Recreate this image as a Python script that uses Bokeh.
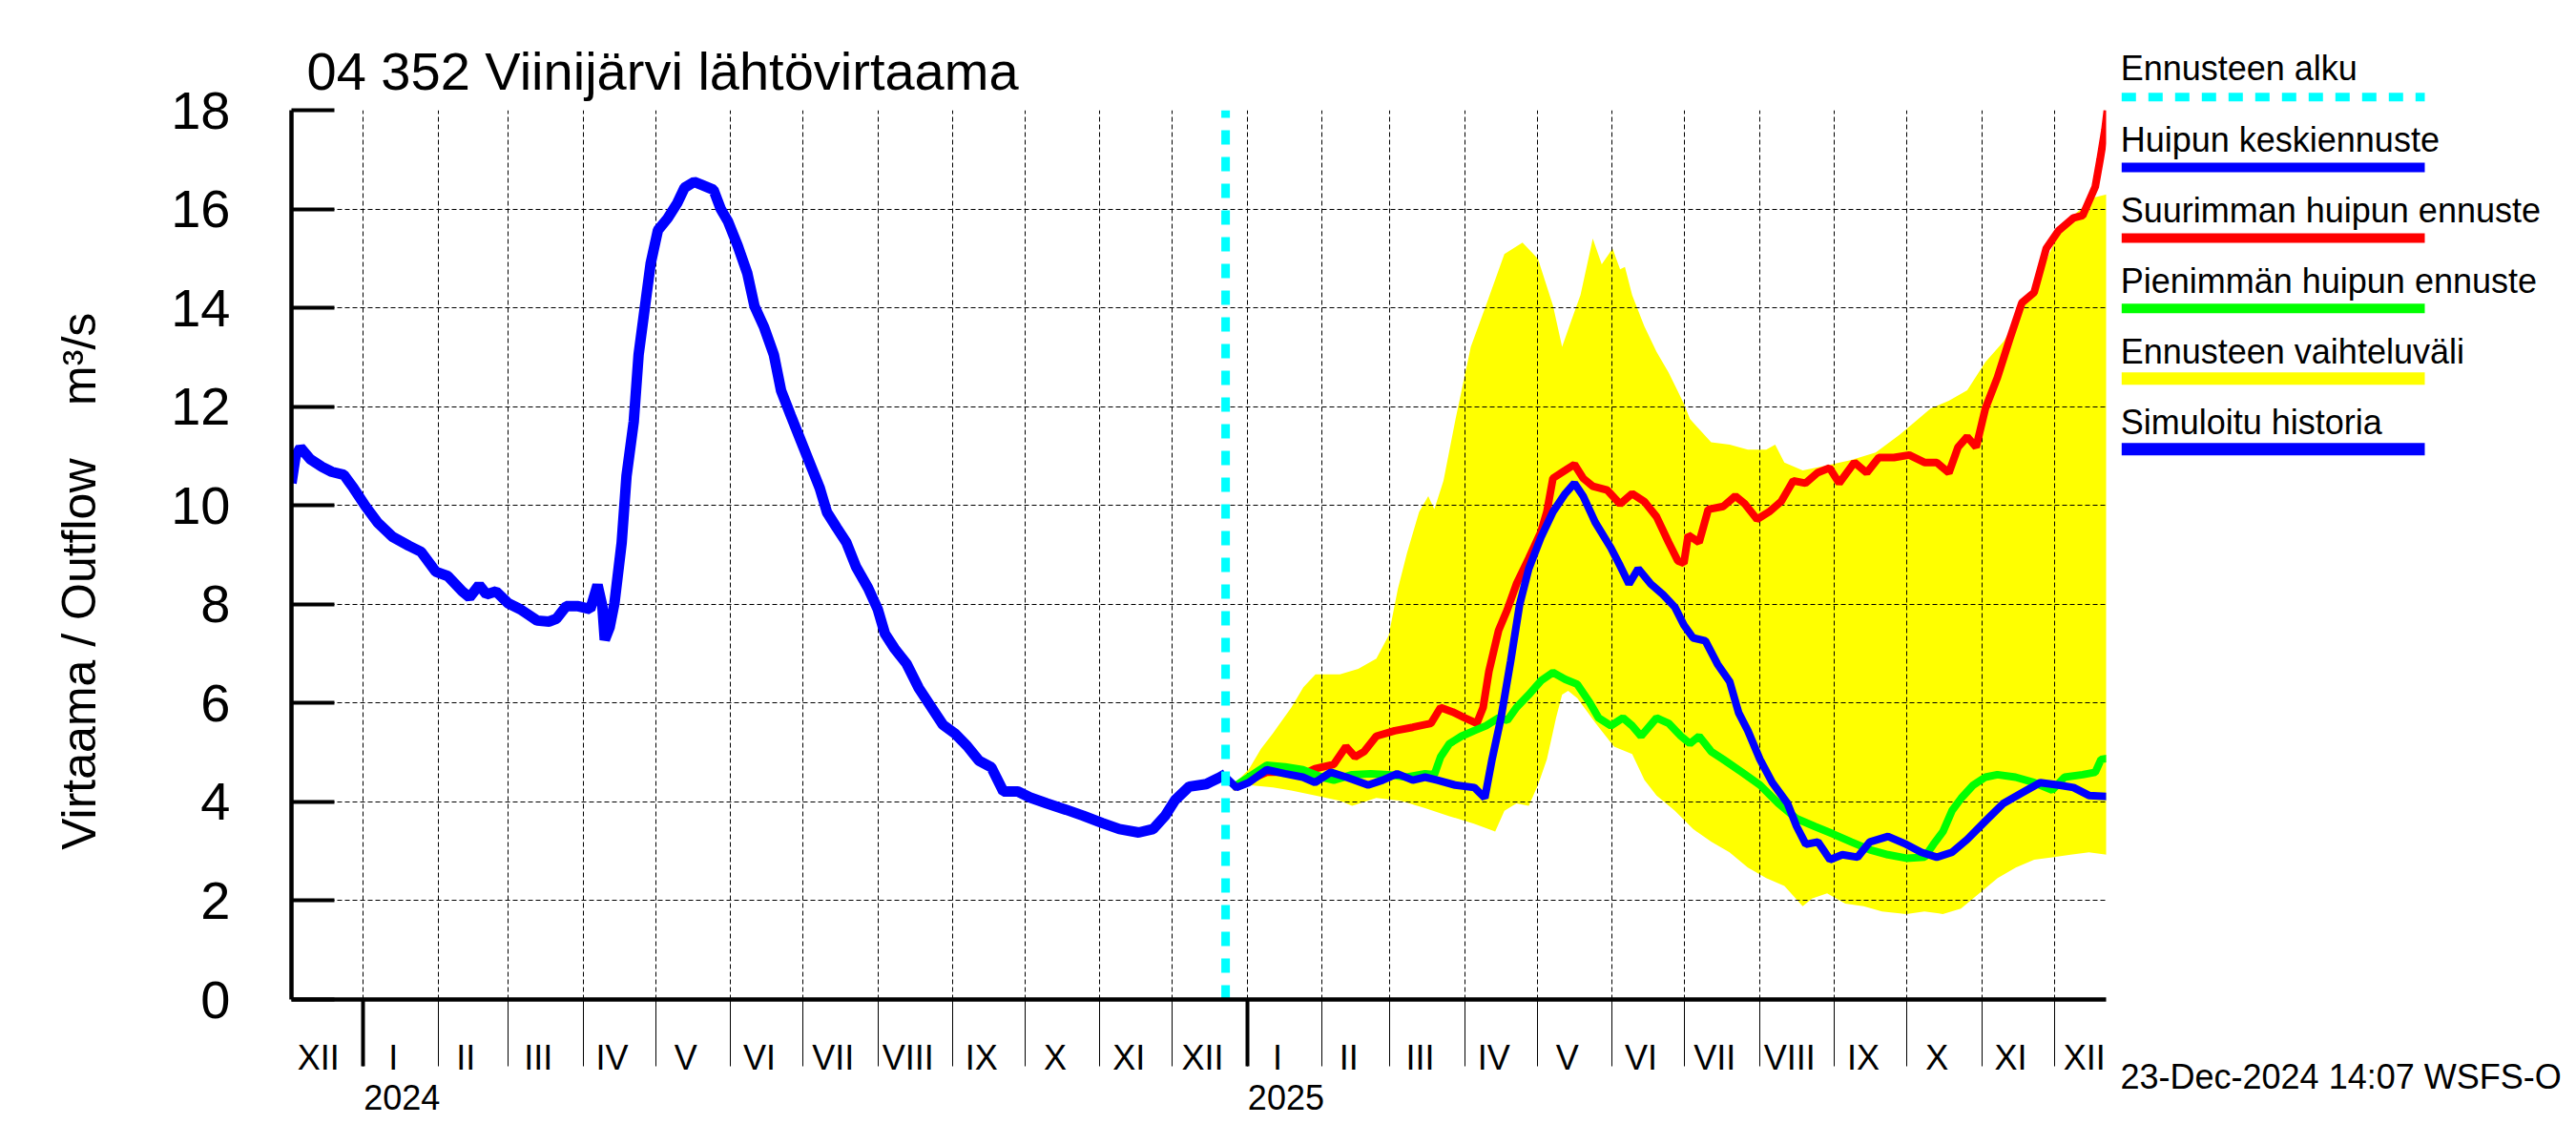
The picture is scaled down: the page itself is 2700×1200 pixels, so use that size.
import pandas as pd
from bokeh.plotting import figure
from bokeh.layouts import row
from bokeh.models import FixedTicker, Range1d, LinearAxis
from bokeh.core.properties import value
from bokeh.embed import file_html
from bokeh.resources import INLINE

FONT = "Liberation Sans"

# ---------------- data ----------------
# simulated history: days since 2024-01-01, flow m3/s
hist_day = [-29.7, -28, -26, -22, -17, -13, -8, -4, 1, 6, 12, 19, 24, 30, 35, 41, 44, 48, 51, 55,
            60, 65, 72, 77, 80, 84, 89, 94, 97, 99, 100, 102, 104, 107, 109, 112, 114, 117, 119, 122,
            126, 130, 133, 137, 140, 145, 148, 151, 155, 159, 162, 166, 170, 173, 177, 181, 185, 189,
            192, 196, 200, 204, 209, 213, 216, 220, 225, 230, 235, 240, 245, 250, 255, 260, 265, 271,
            276, 283, 291, 298, 306, 313, 321, 327, 332, 336, 342, 349, 354, 357]
hist_q = [10.45, 11.0, 11.17, 10.94, 10.78, 10.68, 10.62, 10.35, 9.98, 9.65, 9.37, 9.18, 9.06, 8.66,
          8.57, 8.26, 8.14, 8.39, 8.2, 8.26, 8.02, 7.90, 7.67, 7.65, 7.71, 7.96, 7.96, 7.90, 8.39, 7.96,
          7.28, 7.53, 8.02, 9.25, 10.6, 11.7, 13.05, 14.16, 14.9, 15.57, 15.81, 16.12, 16.43, 16.55,
          16.49, 16.39, 16.0, 15.75, 15.26, 14.7, 14.03, 13.6, 13.05, 12.32, 11.82, 11.33, 10.84, 10.35,
          9.86, 9.55, 9.25, 8.76, 8.33, 7.90, 7.40, 7.10, 6.79, 6.30, 5.93, 5.56, 5.38, 5.13, 4.83, 4.70,
          4.21, 4.21, 4.09, 3.97, 3.84, 3.72, 3.57, 3.45, 3.38, 3.45, 3.72, 4.03, 4.31, 4.36, 4.48, 4.56]

# forecasts: days since 2025-01-01
mean_day = [-9, -4.5, 0.5, 8, 15.6, 23, 28, 34.5, 41, 50, 56, 62, 68.5, 73.6, 78.6, 86, 94, 98.3, 101.3,
            105, 109, 112.7, 116.5, 121.5, 126.5, 131.6, 135.4, 139, 144, 150.5, 154.3, 158, 161.8, 167,
            172, 177, 180.7, 184.5, 189.6, 194.6, 199.7, 203.4, 207.2, 212.2, 217.3, 223.6, 227.4, 231.2,
            236.2, 241.2, 246.3, 252.6, 257.7, 265.2, 272.8, 279, 285.4, 291.7, 298, 305.5, 313, 320.6,
            328.2, 335.8, 342, 348.4, 356]
mean_q = [4.50, 4.29, 4.39, 4.65, 4.57, 4.50, 4.39, 4.60, 4.50, 4.34, 4.44, 4.57, 4.44, 4.50, 4.44, 4.34,
          4.29, 4.08, 4.86, 5.70, 6.85, 7.99, 8.72, 9.35, 9.87, 10.24, 10.45, 10.19, 9.66, 9.14, 8.78,
          8.41, 8.72, 8.41, 8.20, 7.94, 7.58, 7.32, 7.26, 6.79, 6.43, 5.80, 5.44, 4.86, 4.39, 3.97, 3.50,
          3.14, 3.19, 2.83, 2.93, 2.88, 3.19, 3.30, 3.14, 2.98, 2.88, 2.98, 3.24, 3.61, 3.97, 4.18, 4.39,
          4.34, 4.29, 4.13, 4.11]

max_day = [-6, 0.5, 8, 15.6, 23, 28, 35.8, 40.8, 44.6, 48.4, 53.4, 61, 68.5, 76, 80, 85, 90, 95, 97.6,
           100, 104, 107.6, 111.4, 116.5, 121.5, 124, 126.5, 131.6, 135.4, 139, 143, 149, 154.3, 159.3,
           164.3, 169.4, 174.4, 178.2, 180.7, 182.5, 187, 190.8, 197, 202, 206, 211, 216, 221, 226, 231,
           236, 241, 245, 251.3, 256.4, 261.4, 267.7, 274, 280.3, 285.4, 290.4, 294.2, 298, 301.7, 305.5,
           310.5, 315.6, 320.6, 325.7, 330.7, 335.8, 342, 345.8, 351, 353, 355, 356]
max_q = [4.29, 4.44, 4.6, 4.6, 4.55, 4.67, 4.76, 5.12, 4.91, 5.02, 5.33, 5.44, 5.51, 5.59, 5.91, 5.82,
         5.70, 5.59, 5.91, 6.64, 7.47, 7.89, 8.41, 8.93, 9.46, 9.87, 10.55, 10.71, 10.83, 10.55, 10.39,
         10.31, 10.03, 10.24, 10.08, 9.77, 9.25, 8.88, 8.83, 9.40, 9.25, 9.92, 9.98, 10.19, 10.03, 9.72,
         9.87, 10.08, 10.50, 10.45, 10.66, 10.76, 10.45, 10.87, 10.66, 10.97, 10.97, 11.02, 10.87, 10.87,
         10.66, 11.18, 11.39, 11.18, 11.96, 12.59, 13.37, 14.10, 14.31, 15.2, 15.56, 15.82, 15.87, 16.45,
         17.0, 17.6, 18.0]

min_day = [-6, 0.5, 8, 15.6, 23, 30.8, 35.8, 43.4, 51, 58.5, 66, 73.6, 77.4, 80, 83.7, 88.7, 93.8, 98.8,
           104, 107.6, 111.4, 116.5, 121.5, 126.5, 131.6, 136.6, 141.7, 145.4, 150.5, 155.5, 159.3, 163,
           169.4, 174.4, 179.5, 183.2, 187, 192, 197, 204.7, 212.2, 219.8, 227.4, 235, 242.5, 250, 257.7,
           265.2, 272.8, 280.4, 284, 288, 291.7, 295.6, 300.5, 305.5, 310.5, 318, 325.7, 333.2, 338.3,
           345.8, 351, 353.4, 356]
min_q = [4.29, 4.50, 4.74, 4.71, 4.65, 4.50, 4.44, 4.55, 4.57, 4.55, 4.50, 4.57, 4.55, 4.91, 5.18, 5.33,
         5.44, 5.54, 5.70, 5.65, 5.91, 6.17, 6.45, 6.62, 6.48, 6.38, 6.01, 5.70, 5.54, 5.70, 5.54, 5.33,
         5.70, 5.59, 5.33, 5.18, 5.33, 5.02, 4.86, 4.60, 4.34, 3.97, 3.66, 3.50, 3.35, 3.19, 3.03, 2.93,
         2.86, 2.88, 3.14, 3.40, 3.82, 4.08, 4.34, 4.50, 4.55, 4.50, 4.39, 4.24, 4.50, 4.55, 4.60, 4.86,
         4.88]

band_up_day = [-6, 0.5, 5.6, 10.6, 18.2, 23.2, 28.2, 38.3, 45.9, 53.4, 58.5, 62.3, 66.1, 71.1, 74.9, 77.4,
               81.2, 86.2, 92.5, 98.8, 106.4, 113.9, 120.3, 126.5, 130.3, 134.1, 137.9, 143, 146.7, 151.2,
               154.3, 156.3, 159.3, 164.3, 169.4, 174.4, 180.7, 183.2, 192, 199.7, 207.2, 214.8, 218.5,
               222.3, 229.9, 240, 250.1, 260.1, 270.2, 277.8, 282.8, 290.4, 298, 305.5, 313.1, 320.6,
               328.2, 335.8, 343.3, 350.9, 356]
band_up_q = [4.34, 4.65, 5.07, 5.39, 5.91, 6.32, 6.58, 6.58, 6.69, 6.90, 7.37, 8.31, 9.04, 9.87, 10.19,
             9.92, 10.50, 11.75, 13.21, 14.05, 15.09, 15.32, 14.99, 14.05, 13.21, 13.74, 14.26, 15.40,
             14.88, 15.2, 14.78, 14.83, 14.26, 13.63, 13.11, 12.69, 12.06, 11.75, 11.28, 11.23, 11.13,
             11.13, 11.23, 10.87, 10.71, 10.81, 10.92, 11.07, 11.44, 11.75, 11.96, 12.12, 12.33, 12.90,
             13.32, 13.94, 14.68, 15.51, 15.93, 16.24, 16.3]

band_lo_day = [-6, 0.5, 10.6, 18.2, 28.2, 38.3, 43.4, 53.4, 63.5, 73.6, 83.7, 93.8, 102.6, 106.4, 111.4,
               116.5, 120.3, 124, 127.8, 130.3, 132.8, 136.6, 144.2, 151.8, 159.3, 164.4, 169.4, 177,
               184.5, 192.1, 199.6, 207.2, 214.8, 222.3, 229.9, 233.7, 240, 247.5, 255.1, 262.7, 272.8,
               280.3, 287.9, 295.4, 303, 310.6, 318.1, 325.7, 333.2, 340.8, 348.4, 356]
band_lo_q = [4.23, 4.34, 4.29, 4.23, 4.13, 4.02, 3.92, 4.08, 4.02, 3.87, 3.71, 3.56, 3.40, 3.82, 3.97,
             3.92, 4.34, 4.86, 5.70, 6.17, 6.25, 6.10, 5.59, 5.12, 4.97, 4.44, 4.13, 3.82, 3.45, 3.19,
             2.98, 2.67, 2.46, 2.30, 1.89, 2.04, 2.15, 1.94, 1.89, 1.78, 1.73, 1.78, 1.73, 1.84, 2.15,
             2.46, 2.67, 2.83, 2.88, 2.93, 2.98, 2.93]

y_ticks = [0, 2, 4, 6, 8, 10, 12, 14, 16, 18]
month_names = ["I", "II", "III", "IV", "V", "VI", "VII", "VIII", "IX", "X", "XI", "XII"]
year_names = ["2024", "2025"]
legend_names = ["Ennusteen alku", "Huipun keskiennuste", "Suurimman huipun ennuste",
                "Pienimmän huipun ennuste", "Ennusteen vaihteluväli", "Simuloitu historia"]
title_text = "04 352 Viinijärvi lähtövirtaama"
stamp_text = "23-Dec-2024 14:07 WSFS-O"
ylabel_text = "Virtaama / Outflow\u00a0\u00a0\u00a0\u00a0m³/s\u00a0\u00a0\u00a0\u00a0"

# ---------------- derived positions ----------------
base = pd.Timestamp("2024-01-01")
FC = (pd.Timestamp("2025-01-01") - base).days
forecast_start = (pd.Timestamp("2024-12-23") - base).days
x_lo, x_hi = -29.7, 721.5

def shift(days):
    return [d + FC for d in days]

months = pd.date_range("2023-12-01", "2026-01-01", freq="MS")
month_start = [(m - base).days for m in months]
month_bounds = [d for d in month_start if x_lo <= d <= x_hi]
year_bounds = [(pd.Timestamp(f"{y}-01-01") - base).days for y in year_names]

month_pos, month_lab = [], {}
for i in range(len(months) - 1):
    xc = (month_start[i] + month_start[i + 1]) / 2 - 3
    if x_lo < xc < x_hi:
        month_pos.append(xc)
        month_lab[xc] = month_names[months[i].month - 1]
year_pos = [d + 16 for d in year_bounds]
year_lab = {d + 16: n for d, n in zip(year_bounds, year_names)}

# ---------------- main figure ----------------
W_MAIN, W_LEG, H = 2215, 469, 1184
p = figure(width=W_MAIN, height=H, output_backend="svg", toolbar_location=None,
           x_range=Range1d(x_lo, x_hi), y_range=Range1d(0, 18),
           min_border_left=305, min_border_right=8, min_border_top=115, min_border_bottom=H - 1047)
p.outline_line_color = None
p.background_fill_color = "white"
p.border_fill_color = "white"

# band
p.patch(shift(band_up_day) + shift(band_lo_day)[::-1], band_up_q + band_lo_q[::-1],
        fill_color="#ffff00", line_color=None, level="underlay")

# grids
p.xgrid.ticker = FixedTicker(ticks=month_bounds + [x_hi])
p.ygrid.ticker = FixedTicker(ticks=y_ticks[1:])
for g in (p.xgrid, p.ygrid):
    g.grid_line_color = "black"
    g.grid_line_dash = "5 3"
    g.grid_line_width = 1
    g.level = "underlay"

# lines
p.line(shift(max_day), max_q, line_color="#ff0000", line_width=8)
p.line(shift(min_day), min_q, line_color="#00ff00", line_width=8)
p.line(shift(mean_day), mean_q, line_color="#0000ff", line_width=8)
p.line(hist_day, hist_q, line_color="#0000ff", line_width=11)
p.segment(x0=[forecast_start], y0=[0], x1=[forecast_start], y1=[18],
          line_color="#00ffff", line_width=9, line_dash="15 13")

# x axis: month boundary ticks, thick year ticks
xa = p.xaxis[0]
xa.ticker = FixedTicker(ticks=year_bounds, minor_ticks=month_bounds)
xa.major_tick_out = 70
xa.major_tick_in = 0
xa.major_tick_line_width = 4
xa.minor_tick_out = 70
xa.minor_tick_in = 0
xa.minor_tick_line_width = 1
xa.axis_line_width = 4.5
xa.major_label_overrides = {d: "" for d in year_bounds}
xa.major_label_text_font_size = "1px"
xa.major_label_standoff = 0

# month labels axis
ax_m = LinearAxis(ticker=FixedTicker(ticks=month_pos), major_label_overrides=month_lab,
                  major_tick_line_color=None, minor_tick_line_color=None, axis_line_color=None,
                  major_tick_in=0, major_tick_out=0, major_label_standoff=-30,
                  major_label_text_font=FONT, major_label_text_font_size="36px",
                  major_label_text_color="black")
p.add_layout(ax_m, "below")
# year labels axis
ax_y = LinearAxis(ticker=FixedTicker(ticks=year_pos), major_label_overrides=year_lab,
                  major_tick_line_color=None, minor_tick_line_color=None, axis_line_color=None,
                  major_tick_in=0, major_tick_out=0, major_label_standoff=5,
                  major_label_text_font=FONT, major_label_text_font_size="36px",
                  major_label_text_color="black")
p.add_layout(ax_y, "below")

# y axis
ya = p.yaxis[0]
ya.ticker = FixedTicker(ticks=y_ticks)
ya.major_tick_in = 45
ya.major_tick_out = 0
ya.major_tick_line_width = 4
ya.minor_tick_line_color = None
ya.axis_line_width = 4.5
ya.major_label_text_font = FONT
ya.major_label_text_font_size = "56px"
ya.major_label_text_color = "black"
ya.major_label_standoff = 64
ya.axis_label = ylabel_text
ya.axis_label_text_font = FONT
ya.axis_label_text_font_size = "50px"
ya.axis_label_text_font_style = "normal"
ya.axis_label_text_color = "black"
ya.axis_label_standoff = 65

# title
p.title.text = title_text
p.title.text_font = FONT
p.title.text_font_size = "56px"
p.title.text_font_style = "normal"
p.title.text_color = "black"
p.title.align = "left"
p.title.offset = 16
p.title.standoff = 20

# ---------------- legend panel (right) ----------------
q = figure(width=W_LEG, height=H, output_backend="svg", toolbar_location=None,
           x_range=Range1d(0, W_LEG), y_range=Range1d(H, 0), min_border=0,
           x_axis_location=None, y_axis_location=None)
q.outline_line_color = None
q.title.visible = False
for g in q.grid:
    g.visible = False
for fig in (p, q):
    if "frame_align" in fig.properties():
        fig.frame_align = False

LEG_DY = -12    # baseline correction for legend text glyphs
STAMP_DY = -18  # baseline correction for the timestamp
leg_text_y = [83.3, 157.7, 231.7, 306, 380, 454]
leg_line_y = [101.2, 175, 249, 322.7, 396.3, 470.3]
leg_colors = ["#00ffff", "#0000ff", "#ff0000", "#00ff00", "#ffff00", "#0000ff"]
leg_widths = [9, 10, 10, 10, 13, 13]
q.text(x=[7.2] * len(legend_names), y=[t + LEG_DY for t in leg_text_y], text=legend_names,
       text_font=value(FONT), text_font_size=value("36px"),
       text_baseline=value("alphabetic"), text_color="black")
q.segment(x0=[8.3], y0=leg_line_y[:1], x1=[326], y1=leg_line_y[:1],
          line_color=leg_colors[0], line_width=leg_widths[0], line_dash="15 13")
q.segment(x0=[8.3] * 5, y0=leg_line_y[1:], x1=[326] * 5, y1=leg_line_y[1:],
          line_color=leg_colors[1:], line_width=leg_widths[1:])
q.text(x=[7], y=[1146 + STAMP_DY], text=[stamp_text], text_font=value(FONT),
       text_font_size=value("36px"), text_baseline=value("alphabetic"), text_color="black")

open("out.html", "w").write(file_html(row(p, q), INLINE))
